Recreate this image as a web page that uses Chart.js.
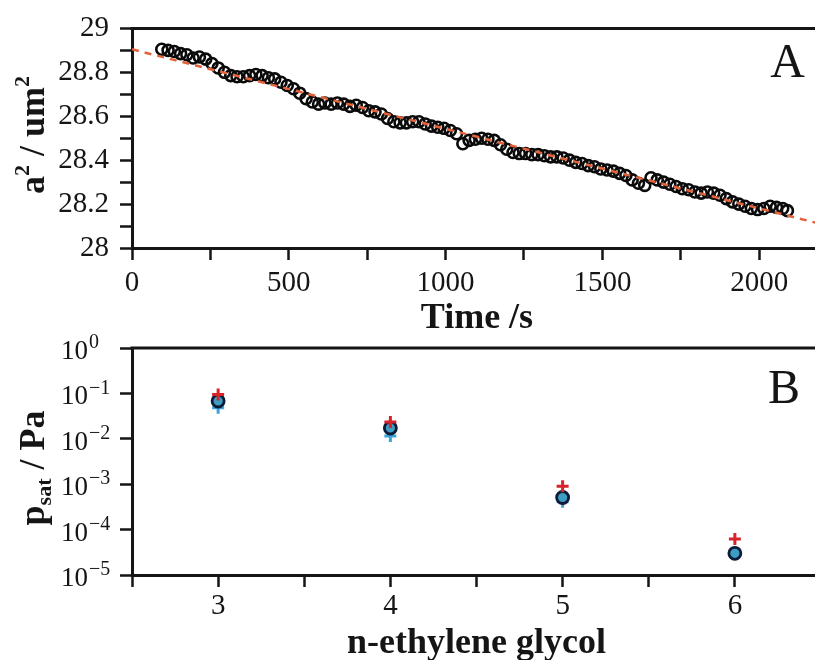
<!DOCTYPE html>
<html>
<head>
<meta charset="utf-8">
<script src="https://cdn.jsdelivr.net/npm/chart.js@4"></script>
<style>
  html, body { margin: 0; padding: 0; background: #fff; overflow: hidden; width: 815px; height: 660px; }
  canvas { position: absolute; left: 0; }
  #chartA { top: 0; }
  #chartB { top: 330px; }
</style>
</head>
<body>
<canvas id="chartA" width="830" height="340"></canvas>
<canvas id="chartB" width="830" height="335"></canvas>
<script>
/* Panel A: droplet size vs time */
const timeS = [95, 115, 135, 155, 175, 195, 215, 235, 255, 275, 295, 315, 335, 355, 375, 395, 415, 435, 455, 475,
  495, 515, 535, 555, 575, 595, 615, 635, 655, 675, 695, 715, 735, 755, 775, 795, 815, 835, 855, 875,
  895, 915, 935, 955, 975, 995, 1015, 1035, 1055, 1075, 1095, 1115, 1135, 1155, 1175, 1195, 1215, 1235, 1255, 1275,
  1295, 1315, 1335, 1355, 1375, 1395, 1415, 1435, 1455, 1475, 1495, 1515, 1535, 1555, 1575, 1595, 1615, 1635, 1655, 1675,
  1695, 1715, 1735, 1755, 1775, 1795, 1815, 1835, 1855, 1875, 1895, 1915, 1935, 1955, 1975, 1995, 2015, 2035, 2055, 2075, 2090];
const areaSq = [28.905, 28.90, 28.895, 28.885, 28.88, 28.865, 28.87, 28.86, 28.84, 28.82, 28.80, 28.785, 28.78, 28.78, 28.785, 28.79, 28.785, 28.775, 28.77, 28.755,
  28.74, 28.725, 28.705, 28.68, 28.665, 28.655, 28.66, 28.655, 28.66, 28.655, 28.645, 28.65, 28.64, 28.625, 28.62, 28.61, 28.59, 28.575, 28.57, 28.57,
  28.575, 28.575, 28.565, 28.555, 28.55, 28.545, 28.535, 28.52, 28.475, 28.49, 28.495, 28.50, 28.495, 28.49, 28.47, 28.45, 28.435, 28.43, 28.43, 28.425,
  28.425, 28.42, 28.415, 28.415, 28.41, 28.40, 28.39, 28.385, 28.375, 28.37, 28.36, 28.355, 28.35, 28.34, 28.33, 28.31, 28.295, 28.285, 28.32, 28.31,
  28.30, 28.29, 28.28, 28.27, 28.265, 28.255, 28.25, 28.255, 28.25, 28.24, 28.225, 28.21, 28.20, 28.19, 28.18, 28.175, 28.18, 28.19, 28.185, 28.18, 28.17];
const fitTime = [0, 2200];
const fitArea = [28.905, 28.108];
const timeTicks = [0, 250, 500, 750, 1000, 1250, 1500, 1750, 2000];
const areaTicks = [28, 28.1, 28.2, 28.3, 28.4, 28.5, 28.6, 28.7, 28.8, 28.9, 29];

/* Panel B: saturation vapour pressure vs glycol length */
const glycolN = [3, 4, 5, 6];
const psatCircle = [0.068, 0.0173, 5.1e-4, 3.0e-5];
const psatRed = [0.095, 0.0234, 9.0e-4, 6.2e-5];
const psatBlue = [0.048, 0.0115, 4.1e-4, 3.0e-5];
const glycolTicks = [2.5, 3, 3.5, 4, 4.5, 5, 5.5, 6];
const psatExponents = [0, -1, -2, -3, -4, -5];

const SERIF = '"Liberation Serif", "Times New Roman", serif';
const INK = '#151515';

// shared look of the axes: ticks outside, no grid inside
function baseGrid() {
    return { drawOnChartArea: false, drawTicks: true, tickLength: 12, tickWidth: 2.5, tickColor: INK };
}
function baseBorder() {
    return { display: true, color: INK, width: 3 };
}
function tickFont() {
    return { family: SERIF, size: 29 };
}
function titleFont() {
    return { family: SERIF, size: 36, weight: 'bold' };
}

// draws a rotated bold label made of runs (for super/subscripts)
function drawRotatedRuns(ctx, runs, x, y) {
    ctx.save();
    ctx.translate(x, y);
    ctx.rotate(-Math.PI / 2);
    ctx.fillStyle = INK;
    ctx.textBaseline = 'alphabetic';
    ctx.textAlign = 'left';
    let total = 0;
    runs.forEach(r => {
        ctx.font = `bold ${r.size}px ${SERIF}`;
        r.w = ctx.measureText(r.text).width;
        total += r.w;
    });
    let cx = -total / 2;
    runs.forEach(r => {
        ctx.font = `bold ${r.size}px ${SERIF}`;
        ctx.fillText(r.text, cx, r.shift);
        cx += r.w;
    });
    ctx.restore();
}

// top frame line, panel letter and y title
const framePlugin = {
    id: 'frame',
    afterDraw(chart, args, opts) {
        const { ctx, chartArea } = chart;
        ctx.save();
        ctx.strokeStyle = INK;
        ctx.lineWidth = 3;
        ctx.beginPath();
        ctx.moveTo(chartArea.left - 1.5, chartArea.top);
        ctx.lineTo(chartArea.right, chartArea.top);
        ctx.stroke();

        ctx.fillStyle = INK;
        ctx.font = `48px ${SERIF}`;
        ctx.textAlign = 'right';
        ctx.textBaseline = 'alphabetic';
        ctx.fillText(opts.letter, opts.letterX, opts.letterY);
        ctx.restore();

        drawRotatedRuns(ctx, opts.yTitle, opts.yTitleX, opts.yTitleY);
    }
};

// "10^n" labels for the log axis
const powerLabels = {
    id: 'powerLabels',
    afterDraw(chart) {
        const scale = chart.scales.y;
        if (scale.type !== 'logarithmic') return;
        const ctx = chart.ctx;
        ctx.save();
        ctx.fillStyle = INK;
        ctx.textBaseline = 'middle';
        psatExponents.forEach(e => {
            const y = scale.getPixelForValue(Math.pow(10, e));
            ctx.font = `27px ${SERIF}`;
            ctx.textAlign = 'right';
            ctx.fillText('10', 88, y + 4);
            ctx.font = `20px ${SERIF}`;
            ctx.textAlign = 'left';
            ctx.fillText(e === 0 ? '0' : '\u2212' + (-e), 89, y - 5);
        });
        ctx.restore();
    }
};

new Chart(document.getElementById('chartA'), {
    type: 'scatter',
    data: {
        datasets: [
            {
                type: 'line',
                label: 'fit',
                data: fitTime.map((t, i) => ({ x: t, y: fitArea[i] })),
                borderColor: '#e4623a',
                borderWidth: 2.5,
                borderDash: [7, 6],
                pointRadius: 0,
                fill: false
            },
            {
                label: 'a2',
                data: timeS.map((t, i) => ({ x: t, y: areaSq[i] })),
                pointRadius: 5.5,
                pointBorderWidth: 2.6,
                borderColor: '#0a0a0a',
                backgroundColor: 'rgba(255,255,255,0)'
            }
        ]
    },
    options: {
        responsive: false,
        animation: false,
        layout: { padding: { top: 22, right: 6, left: 0, bottom: 0 } },
        plugins: {
            legend: { display: false },
            tooltip: { enabled: false },
            frame: {
                letter: 'A', letterX: 805, letterY: 77,
                yTitle: [
                    { text: 'a', size: 36, shift: 0 },
                    { text: '2', size: 22, shift: -15 },
                    { text: ' / um', size: 36, shift: 0 },
                    { text: '2', size: 22, shift: -15 }
                ],
                yTitleX: 44, yTitleY: 135
            }
        },
        scales: {
            x: {
                type: 'linear', min: 0, max: 2200,
                afterBuildTicks: s => { s.ticks = timeTicks.map(v => ({ value: v })); },
                afterFit: s => { s.height = 92; },
                ticks: {
                    autoSkip: false, maxRotation: 0, padding: 6, color: INK, font: tickFont(),
                    callback: v => (v % 500 === 0 ? String(v) : '')
                },
                grid: baseGrid(),
                border: baseBorder(),
                title: { display: true, text: 'Time /s', color: INK, font: titleFont(), padding: 0 }
            },
            y: {
                type: 'linear', min: 28, max: 29,
                afterBuildTicks: s => { s.ticks = areaTicks.map(v => ({ value: v })); },
                afterFit: s => { s.width = 132; },
                ticks: {
                    autoSkip: false, padding: 11, color: INK, font: tickFont(),
                    callback: (v, i) => (i % 2 === 0 ? String(Number(v.toFixed(1))) : '')
                },
                grid: baseGrid(),
                border: baseBorder()
            }
        }
    },
    plugins: [framePlugin]
});

new Chart(document.getElementById('chartB'), {
    type: 'scatter',
    data: {
        datasets: [
            {
                label: 'red',
                data: glycolN.map((n, i) => ({ x: n, y: psatRed[i] })),
                pointStyle: 'cross',
                pointRadius: 6,
                pointBorderWidth: 3,
                borderColor: '#d8232a'
            },
            {
                label: 'circle',
                data: glycolN.map((n, i) => ({ x: n, y: psatCircle[i] })),
                pointRadius: 6,
                pointBorderWidth: 2.8,
                borderColor: '#0d1b38',
                backgroundColor: '#3b9ec2'
            },
            {
                label: 'blue',
                data: glycolN.map((n, i) => ({ x: n, y: psatBlue[i] })),
                pointStyle: 'cross',
                pointRadius: 6,
                pointBorderWidth: 3,
                borderColor: '#3ba3dc'
            }
        ]
    },
    options: {
        responsive: false,
        animation: false,
        layout: { padding: { top: 18, right: 6, left: 0, bottom: 0 } },
        plugins: {
            legend: { display: false },
            tooltip: { enabled: false },
            frame: {
                letter: 'B', letterX: 800, letterY: 403 - 330,
                yTitle: [
                    { text: 'p', size: 36, shift: 0 },
                    { text: 'sat', size: 22, shift: 7 },
                    { text: ' / Pa', size: 36, shift: 0 }
                ],
                yTitleX: 44, yTitleY: 138
            }
        },
        scales: {
            x: {
                type: 'linear', min: 2.5, max: 6.5,
                afterBuildTicks: s => { s.ticks = glycolTicks.map(v => ({ value: v })); },
                afterFit: s => { s.height = 90; },
                ticks: {
                    autoSkip: false, maxRotation: 0, padding: 2, color: INK, font: tickFont(),
                    callback: v => (Number.isInteger(v) ? String(v) : '')
                },
                grid: baseGrid(),
                border: baseBorder(),
                title: { display: true, text: 'n-ethylene glycol', color: INK, font: titleFont(), padding: 0 }
            },
            y: {
                type: 'logarithmic', min: 1e-5, max: 1,
                afterBuildTicks: s => { s.ticks = psatExponents.map(e => ({ value: Math.pow(10, e) })); },
                afterFit: s => { s.width = 132; },
                ticks: { autoSkip: false, callback: () => '' },
                grid: baseGrid(),
                border: baseBorder()
            }
        }
    },
    plugins: [framePlugin, powerLabels]
});
</script>
</body>
</html>
